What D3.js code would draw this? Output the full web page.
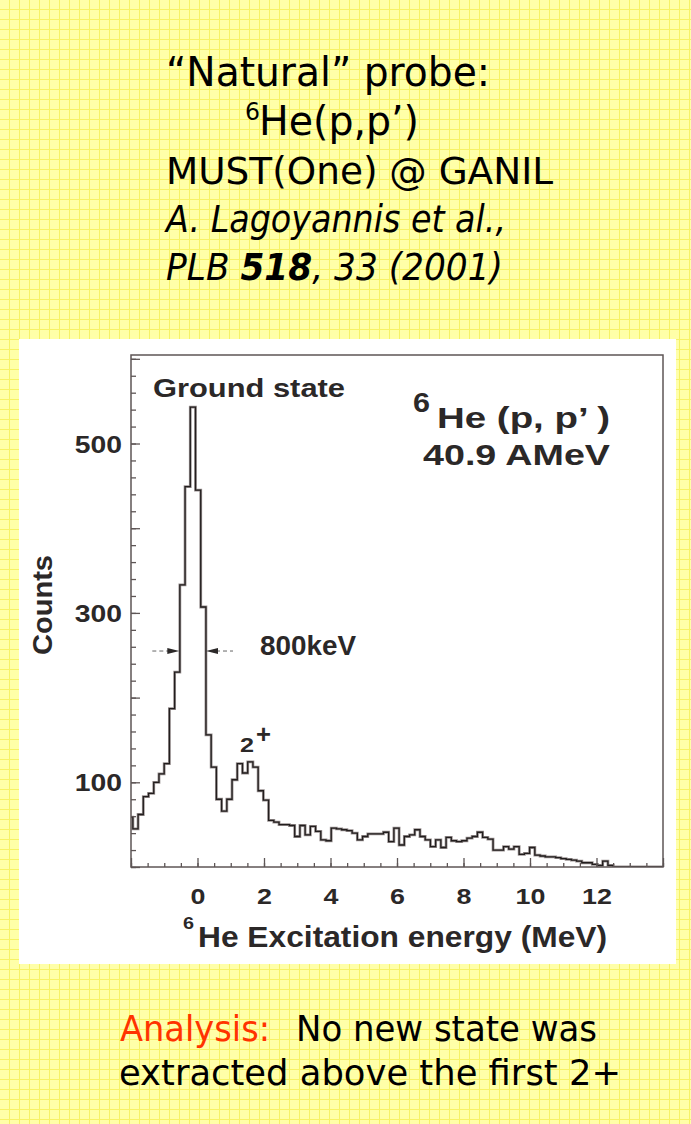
<!DOCTYPE html>
<html><head><meta charset="utf-8">
<script src="https://cdn.jsdelivr.net/npm/d3@7"></script>
<style>html,body{margin:0;padding:0;background:#ffffa8;overflow:hidden}svg{display:block}</style>
</head><body><svg id="c" width="691" height="1124"></svg>
<script>
// ---------- data ----------
// histogram bin edges (MeV) and counts
const binEdges = [
 -2.101,-1.944,-1.787,-1.630,-1.473,-1.316,-1.159,-1.002,-0.845,-0.688,
 -0.531,-0.374,-0.217,-0.060,0.097,0.254,0.411,0.568,0.725,0.882,
 1.039,1.196,1.353,1.510,1.667,1.824,1.981,2.138,2.295,2.452,
 2.609,2.766,2.923,3.080,3.237,3.394,3.551,3.708,3.865,4.022,
 4.179,4.336,4.493,4.650,4.807,4.964,5.121,5.278,5.435,5.592,
 5.749,5.906,6.063,6.220,6.377,6.534,6.691,6.848,7.005,7.162,
 7.319,7.476,7.633,7.790,7.947,8.104,8.261,8.418,8.575,8.732,
 8.889,9.046,9.203,9.360,9.517,9.674,9.831,9.988,10.145,10.302,
 10.459,10.616,10.773,10.930,11.087,11.244,11.401,11.558,11.715,11.872,
 12.029,12.186,12.343,12.500];
const counts = [
 59,45,62,83,87,100,110,122,187,230,
 333,449,543,445,307,156,118,80,66,80,
 103,122,111,124,118,90,79,55,53,50,
 50,49,36,49,38,48,42,32,31,46,
 45,44,43,40,32,36,39,39,39,41,
 30,46,26,36,38,44,36,32,24,32,
 23,35,31,30,31,34,36,41,35,33,
 20,20,24,21,24,15,16,23,14,13,
 12,12,11,10,9,8,7,5,5,3,
 2,7,2];
const xMajorTicks = [-2,0,2,4,6,8,10,12,14];
const xTickLabels = ["0","2","4","6","8","10","12"];
const yMajorTicks = [0,100,200,300,400,500,600];
const yTickLabels = ["100","300","500"];
const fwhmEnergies = [-0.547, 0.256];   // 800 keV width markers
const fwhmLevel = 255;

// ---------- setup ----------
const svg = d3.select('#c');
const W = 691, H = 1124;
const defs = svg.append('defs');
const pat = defs.append('pattern').attr('id','grid').attr('width',10).attr('height',10)
  .attr('patternUnits','userSpaceOnUse');
pat.append('rect').attr('width',10).attr('height',10).attr('fill','#ffffa8');
pat.append('path').attr('d','M9.5 0V10M0 9.5H10').attr('stroke','#f6f266').attr('stroke-width',1).attr('fill','none');
svg.append('rect').attr('width',W).attr('height',H).attr('fill','url(#grid)');

const slideFont = '"Comic Sans MS","DejaVu Sans",sans-serif';
function stxt(x, y, s, size, len, opts = {}) {
  const t = svg.append('text').attr('x', x).attr('y', y)
    .attr('font-family', slideFont).attr('font-size', size)
    .attr('fill', opts.fill || '#000')
    .attr('font-style', opts.italic ? 'italic' : null);
  if (Array.isArray(s)) {
    s.forEach(p => t.append('tspan').text(p.t).attr('font-weight', p.bold ? 'bold' : null)
      .attr('fill', p.fill || null));
  } else t.text(s);
  if (len) t.attr('textLength', len).attr('lengthAdjust', 'spacingAndGlyphs');
  return t;
}

// ---------- slide texts ----------
stxt(166, 86, '\u201CNatural\u201D probe:', 40, 324);
stxt(245, 120, '6', 25, 15);
stxt(259, 135, 'He(p,p\u2019)', 40, 160);
stxt(166, 184, 'MUST(One) @ GANIL', 37, 387);
stxt(166, 232, 'A. Lagoyannis et al.,', 37, 340, {italic: true});
stxt(166, 280, [{t:'PLB '},{t:'518',bold:true},{t:', 33 (2001)'}], 37, 337, {italic: true});

stxt(120, 1041, 'Analysis:', 36, 150, {fill: '#ff3300'});
stxt(296, 1041, 'No new state was', 36, 301);
stxt(119, 1085, 'extracted above the first 2+', 36, 502);

// ---------- figure panel ----------
svg.append('rect').attr('x',19).attr('y',339).attr('width',657).attr('height',625).attr('fill','#fff');

const L = 131, R = 663, T = 355, B = 867;
const x = d3.scaleLinear().domain([-2, 14]).range([L, R]);
const y = d3.scaleLinear().domain([0, 604.5]).range([B, T]);
const axCol = '#5e5656', txCol = '#2b2828';
const figFont = '"Liberation Sans",Arial,Helvetica,sans-serif';

defs.append('clipPath').attr('id','plotclip').append('rect')
  .attr('x',L).attr('y',T).attr('width',R-L).attr('height',B-T);

// histogram
const pts = counts.map((c, i) => [binEdges[i], c]);
pts.push([binEdges[binEdges.length-1], 0]);
pts.push([14, 0]);
const line = d3.line().x(d => x(d[0])).y(d => y(d[1])).curve(d3.curveStepAfter);
const hg = svg.append('g').attr('clip-path','url(#plotclip)');
hg.append('path').attr('d', line(pts)).attr('fill','none')
  .attr('stroke','#9a9292').attr('stroke-width',2.8).attr('stroke-linejoin','miter');
hg.append('path').attr('d', line(pts)).attr('fill','none')
  .attr('stroke','#221e1e').attr('stroke-width',1.3).attr('stroke-linejoin','miter');

// axes (ticks inward)
function styleAxis(g) {
  g.select('.domain').remove();
  g.selectAll('.tick line').attr('stroke', axCol).attr('stroke-width', 1.3);
}
const xMinor = svg.append('g').attr('transform',`translate(0,${B})`)
  .call(d3.axisBottom(x).tickValues(d3.range(-2, 14.01, 0.5)).tickSize(-4).tickFormat(''));
styleAxis(xMinor);
const xMajor = svg.append('g').attr('transform',`translate(0,${B})`)
  .call(d3.axisBottom(x).tickValues(xMajorTicks).tickSize(-9).tickPadding(21)
    .tickFormat(d => xTickLabels.includes(String(d)) ? String(d) : ''));
styleAxis(xMajor);
xMajor.selectAll('.tick text').attr('font-family', figFont).attr('font-size', 22)
  .attr('font-weight','bold').attr('fill', txCol)
  .each(function(){ const w = this.getComputedTextLength(); if (w>0) d3.select(this).attr('textLength', w*1.22).attr('lengthAdjust','spacingAndGlyphs'); });

const yMinor = svg.append('g').attr('transform',`translate(${L},0)`)
  .call(d3.axisLeft(y).tickValues(d3.range(0, 601, 20)).tickSize(-5).tickFormat(''));
styleAxis(yMinor);
const yMajor = svg.append('g').attr('transform',`translate(${L},0)`)
  .call(d3.axisLeft(y).tickValues(yMajorTicks).tickSize(-9).tickPadding(9)
    .tickFormat(d => yTickLabels.includes(String(d)) ? String(d) : ''));
styleAxis(yMajor);
yMajor.selectAll('.tick text').attr('font-family', figFont).attr('font-size', 24)
  .attr('font-weight','bold').attr('fill', txCol).attr('dy','0.36em')
  .each(function(){ const w = this.getComputedTextLength(); if (w>0) d3.select(this).attr('textLength', w*1.18).attr('lengthAdjust','spacingAndGlyphs'); });

// frame
svg.append('rect').attr('x',L).attr('y',T).attr('width',R-L).attr('height',B-T)
  .attr('fill','none').attr('stroke',axCol).attr('stroke-width',1.5);

// figure texts
function ftxt(xp, yp, s, size, len, anchor) {
  const t = svg.append('text').attr('x', xp).attr('y', yp).text(s)
    .attr('font-family', figFont).attr('font-weight','bold').attr('font-size', size)
    .attr('fill', txCol).attr('text-anchor', anchor || 'start');
  if (len) t.attr('textLength', len).attr('lengthAdjust','spacingAndGlyphs');
  return t;
}
ftxt(153, 397, 'Ground state', 26, 192);
ftxt(413, 412, '6', 28, 17);
ftxt(437, 428, 'He (p, p\u2019 )', 30, 173);
ftxt(423, 465, '40.9 AMeV', 30, 187);
ftxt(260, 655, '800keV', 27, 96);
ftxt(240, 752, '2', 21, 14);
ftxt(256, 743, '+', 25, 15);
ftxt(183, 929, '6', 16, 11);
ftxt(198, 947, 'He  Excitation energy (MeV)', 29, 409);
svg.append('text').attr('transform','translate(52,605) rotate(-90)')
  .attr('text-anchor','middle').text('Counts')
  .attr('font-family', figFont).attr('font-weight','bold').attr('font-size', 28)
  .attr('fill', txCol).attr('textLength', 100).attr('lengthAdjust','spacingAndGlyphs');

// FWHM arrows
const yA = y(fwhmLevel);
const xl = x(fwhmEnergies[0]), xr = x(fwhmEnergies[1]);
svg.append('line').attr('x1', xl-27).attr('x2', xl-10).attr('y1', yA).attr('y2', yA)
  .attr('stroke','#666').attr('stroke-width',1).attr('stroke-dasharray','4,3');
svg.append('line').attr('x1', xr+10).attr('x2', xr+27).attr('y1', yA).attr('y2', yA)
  .attr('stroke','#666').attr('stroke-width',1).attr('stroke-dasharray','4,3');
svg.append('path').attr('d', `M${xl},${yA}L${xl-12},${yA-3}L${xl-12},${yA+3}Z`).attr('fill','#2b2828');
svg.append('path').attr('d', `M${xr},${yA}L${xr+12},${yA-3}L${xr+12},${yA+3}Z`).attr('fill','#2b2828');
</script></body></html>
